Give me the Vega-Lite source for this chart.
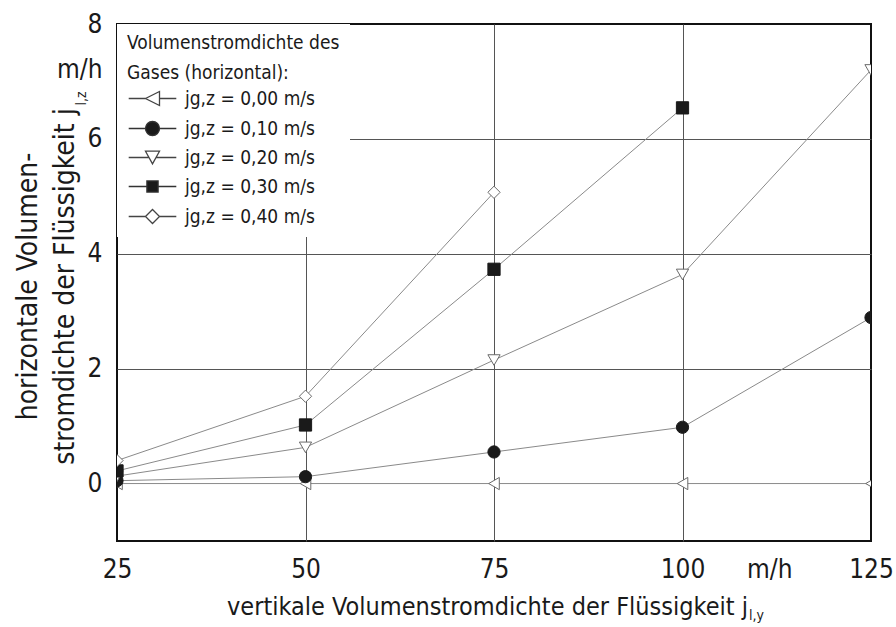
{
  "$schema": "https://vega.github.io/schema/vega-lite/v6.json",
  "width": 754,
  "height": 517,
  "autosize": "none",
  "padding": {"left": 117, "top": 24, "right": 25, "bottom": 86},
  "background": "white",
  "config": {
    "font": "DejaVu Sans Condensed, Liberation Sans Narrow, sans-serif",
    "view": {"stroke": "#111111", "strokeWidth": 2},
    "axis": {
      "domain": false,
      "ticks": false,
      "labelColor": "#1a1a1a",
      "titleColor": "#1a1a1a",
      "titleFontWeight": "normal",
      "labelFont": "DejaVu Sans Condensed, Liberation Sans Narrow, sans-serif",
      "titleFont": "DejaVu Sans Condensed, Liberation Sans Narrow, sans-serif"
    },
    "legend": {
      "labelFont": "DejaVu Sans Condensed, Liberation Sans Narrow, sans-serif",
      "titleFont": "DejaVu Sans Condensed, Liberation Sans Narrow, sans-serif"
    }
  },
  "data": {
    "values": [
      {"x": 25, "y": 0, "g": "0,00"},
      {"x": 50, "y": 0, "g": "0,00"},
      {"x": 75, "y": 0, "g": "0,00"},
      {"x": 100, "y": 0, "g": "0,00"},
      {"x": 125, "y": 0, "g": "0,00"},
      {"x": 25, "y": 0.05, "g": "0,10"},
      {"x": 50, "y": 0.12, "g": "0,10"},
      {"x": 75, "y": 0.55, "g": "0,10"},
      {"x": 100, "y": 0.98, "g": "0,10"},
      {"x": 125, "y": 2.89, "g": "0,10"},
      {"x": 25, "y": 0.13, "g": "0,20"},
      {"x": 50, "y": 0.63, "g": "0,20"},
      {"x": 75, "y": 2.15, "g": "0,20"},
      {"x": 100, "y": 3.64, "g": "0,20"},
      {"x": 125, "y": 7.2, "g": "0,20"},
      {"x": 25, "y": 0.22, "g": "0,30"},
      {"x": 50, "y": 1.02, "g": "0,30"},
      {"x": 75, "y": 3.73, "g": "0,30"},
      {"x": 100, "y": 6.54, "g": "0,30"},
      {"x": 25, "y": 0.4, "g": "0,40"},
      {"x": 50, "y": 1.52, "g": "0,40"},
      {"x": 75, "y": 5.07, "g": "0,40"}
    ]
  },
  "layer": [
    {
      "mark": {"type": "line", "clip": true, "color": "#8a8a8a", "strokeWidth": 1},
      "encoding": {
        "x": {
          "field": "x", "type": "quantitative",
          "scale": {"domain": [25, 125], "nice": false, "zero": false},
          "axis": {
            "orient": "bottom",
            "values": [25, 50, 75, 100, 111.5, 125],
            "labelExpr": "datum.value == 111.5 ? 'm/h' : datum.label",
            "labelFontSize": 26,
            "labelPadding": 15,
            "labelFlush": false,
            "labelBound": false,
            "labelOverlap": false,
            "grid": true,
            "gridColor": "#555555",
            "gridWidth": 1,
            "gridOpacity": {"condition": {"test": "datum.value == 50 || datum.value == 75 || datum.value == 100", "value": 1}, "value": 0},
            "title": "vertikale Volumenstromdichte der Flüssigkeit j",
            "titleFontSize": 25,
            "titleX": 370,
            "titleY": 73,
            "titleBaseline": "alphabetic",
            "titleAlign": "center"
          }
        },
        "y": {
          "field": "y", "type": "quantitative",
          "scale": {"domain": [-1, 8], "nice": false, "zero": false},
          "axis": {
            "orient": "left",
            "values": [0, 2, 4, 6, 7.2, 8],
            "labelExpr": "datum.value == 7.2 ? 'm/h' : datum.label",
            "labelFontSize": 26,
            "labelPadding": 15,
            "labelFlush": false,
            "labelBound": false,
            "labelOverlap": false,
            "grid": true,
            "gridColor": "#555555",
            "gridWidth": 1,
            "gridOpacity": {"condition": {"test": "datum.value == 2 || datum.value == 4 || datum.value == 6", "value": 1}, "value": 0},
            "title": ["horizontale Volumen-", "stromdichte der Flüssigkeit j"],
            "titleFontSize": 28,
            "titleLineHeight": 37,
            "titleX": -81,
            "titleY": 262,
            "titleAngle": -90,
            "titleBaseline": "alphabetic",
            "titleAlign": "center"
          }
        },
        "detail": {"field": "g"}
      }
    },
    {
      "mark": {"type": "point", "clip": true, "filled": false, "size": 150, "strokeWidth": 1, "opacity": 1},
      "encoding": {
        "x": {"field": "x", "type": "quantitative", "axis": null},
        "y": {"field": "y", "type": "quantitative", "axis": null},
        "shape": {
          "field": "g", "type": "nominal",
          "scale": {"domain": ["0,00", "0,10", "0,20", "0,30", "0,40"], "range": ["triangle-left", "circle", "triangle-down", "square", "diamond"]},
          "legend": null
        },
        "fill": {
          "field": "g", "type": "nominal",
          "scale": {"domain": ["0,00", "0,10", "0,20", "0,30", "0,40"], "range": ["white", "#1a1a1a", "white", "#1a1a1a", "white"]},
          "legend": null
        },
        "stroke": {
          "field": "g", "type": "nominal",
          "scale": {"domain": ["0,00", "0,10", "0,20", "0,30", "0,40"], "range": ["#6a6a6a", "#1a1a1a", "#6a6a6a", "#1a1a1a", "#6a6a6a"]},
          "legend": null
        }
      }
    },
    {
      "mark": {"type": "point", "clip": true, "filled": false, "size": 196, "strokeWidth": 1.3, "opacity": 0},
      "encoding": {
        "x": {"field": "x", "type": "quantitative", "axis": null},
        "y": {"field": "y", "type": "quantitative", "axis": null},
        "shape": {
          "field": "g", "type": "nominal",
          "scale": {"domain": ["0,00", "0,10", "0,20", "0,30", "0,40"], "range": ["M-3.4,0H-1M1,0H3.4M-1,0L1,-1L1,1Z", "M-3.4,0H-1M1,0H3.4M-1,0A1,1,0,1,0,1,0A1,1,0,1,0,-1,0Z", "M-3.4,0H-0.5M0.5,0H3.4M-1,-0.9L1,-0.9L0,0.9Z", "M-3.4,0H-0.8M0.8,0H3.4M-0.8,-0.8H0.8V0.8H-0.8Z", "M-3.4,0H-1M1,0H3.4M-1,0L0,-1L1,0L0,1Z"]},
          "legend": {
            "title": ["Volumenstromdichte des", "Gases (horizontal):"],
            "orient": "top-left",
            "offset": 0,
            "fillColor": "white",
            "padding": 10,
            "titleFontSize": 19,
            "titleFontWeight": "normal",
            "titleColor": "#1a1a1a",
            "titleLineHeight": 30,
            "titlePadding": 6,
            "titleLimit": 500,
            "labelLimit": 500,
            "labelFontSize": 19,
            "labelColor": "#1a1a1a",
            "labelExpr": "'jg,z = ' + datum.label + ' m/s'",
            "symbolSize": 196,
            "symbolOffset": 16,
            "labelOffset": 23,
            "rowPadding": 9,
            "symbolStrokeWidth": 1.3,
            "symbolOpacity": 1
          }
        },
        "fill": {
          "field": "g", "type": "nominal",
          "scale": {"domain": ["0,00", "0,10", "0,20", "0,30", "0,40"], "range": ["white", "#1a1a1a", "white", "#1a1a1a", "white"]}
        },
        "stroke": {
          "field": "g", "type": "nominal",
          "scale": {"domain": ["0,00", "0,10", "0,20", "0,30", "0,40"], "range": ["#444444", "#333333", "#444444", "#333333", "#444444"]}
        }
      }
    },
    {
      "mark": {"type": "point", "opacity": 0},
      "encoding": {
        "x": {
          "field": "x", "type": "quantitative",
          "axis": {"orient": "bottom", "labels": false, "grid": false, "title": "l,y", "titleColor": "#1a1a1a", "titleFontSize": 14, "titleX": 639, "titleY": 78, "titleBaseline": "alphabetic", "titleAlign": "center"}
        },
        "y": {
          "field": "y", "type": "quantitative",
          "axis": {"orient": "left", "labels": false, "grid": false, "title": "l,z", "titleColor": "#1a1a1a", "titleFontSize": 14, "titleX": -32, "titleY": 74, "titleAngle": -90, "titleBaseline": "alphabetic", "titleAlign": "center"}
        }
      }
    }
  ],
  "resolve": {
    "axis": {"x": "independent", "y": "independent"},
    "scale": {"shape": "independent", "fill": "independent", "stroke": "independent"}
  }
}
